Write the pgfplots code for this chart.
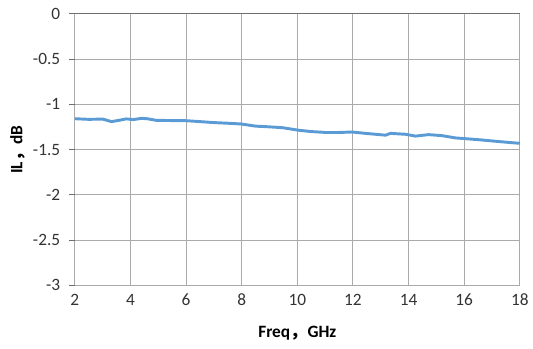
\documentclass[border=0pt]{standalone}
\usepackage{pgfplots}
\pgfplotsset{compat=1.18}
\usepackage{fontspec}
\setmainfont{Carlito}
\newfontfamily\cjk{Noto Sans CJK SC}
\definecolor{linec}{RGB}{91,155,213}
\definecolor{gridc}{RGB}{170,170,170}
\definecolor{axc}{RGB}{110,110,110}
\begin{document}
\begin{tikzpicture}
\begin{axis}[
  scale only axis,
  width=334.5pt, height=204pt,
  xmin=2, xmax=18, ymin=-3, ymax=0,
  xtick={2,4,...,18},
  ytick={-3,-2.5,...,0},
  yticklabels={-3,-2.5,-2,-1.5,-1,-0.5,0},
  grid=major,
  major grid style={gridc, line width=0.7pt},
  axis line style={draw=none},
  axis x line*=bottom, axis y line*=left,
  x axis line style={axc, line width=0.8pt},
  y axis line style={axc, line width=0.8pt},
  xtick style={draw=none},
  ytick style={axc, line width=0.8pt},
  ytick align=outside, major tick length=4.5pt,
  tick label style={font=\fontsize{13}{15}\selectfont, text=black!80},
  /pgf/number format/assume math mode=true,
  xticklabel style={yshift=-3pt},
  yticklabel style={xshift=-3pt},
  xlabel={\textbf{Freq{\cjk\bfseries ，}GHz}},
  ylabel={\textbf{IL{\cjk\bfseries ，}dB}},
  label style={font=\fontsize{13}{15}\selectfont},
  xlabel style={yshift=-8pt},
  ylabel style={yshift=-1pt},
  clip=false,
]
\addplot[axc, line width=0.8pt, forget plot] coordinates {(2,0) (18,0)};
\addplot[gridc, line width=0.7pt, forget plot] coordinates {(18,-3) (18,0)};
\addplot[linec, line width=2.2pt, line join=round] coordinates {
(2.0,-1.158) (2.5,-1.165) (3.0,-1.162) (3.32,-1.19) (3.6,-1.175) (3.85,-1.16) (4.1,-1.168) (4.39,-1.154) (4.6,-1.158) (4.93,-1.176)
(5.4,-1.178) (6.0,-1.18) (6.5,-1.19) (6.95,-1.20) (7.5,-1.208) (7.97,-1.216) (8.5,-1.24) (9.0,-1.248) (9.46,-1.257) (10.06,-1.286)
(10.5,-1.30) (11.02,-1.31) (11.5,-1.31) (11.97,-1.305) (12.45,-1.32) (13.17,-1.34) (13.35,-1.32) (13.89,-1.33) (14.25,-1.35)
(14.72,-1.334) (15.2,-1.345) (15.68,-1.37) (16.1,-1.38) (16.52,-1.39) (17.23,-1.41) (17.6,-1.42) (18.0,-1.43)
};
\end{axis}
\useasboundingbox (current axis.south west) ++(-56.25pt,-47.25pt) rectangle ([shift={(9pt,10.5pt)}]current axis.north east);
\end{tikzpicture}
\end{document}
